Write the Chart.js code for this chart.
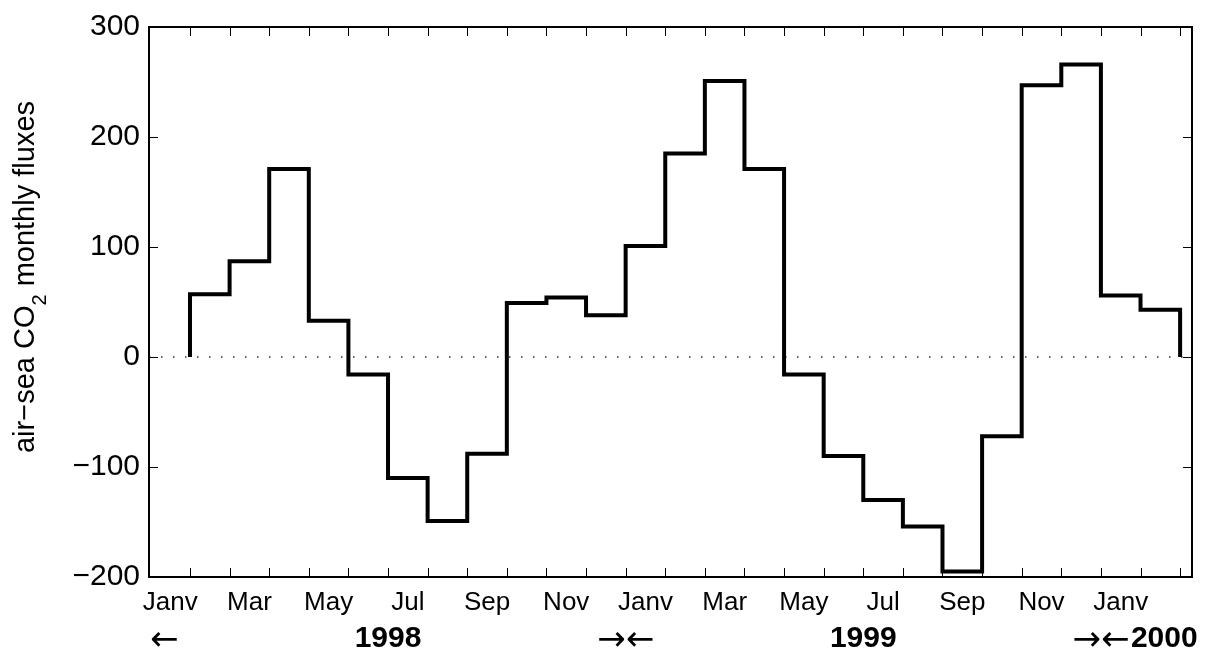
<!DOCTYPE html>
<html>
<head>
<meta charset="utf-8">
<title>air-sea CO2 monthly fluxes</title>
<script src="https://cdn.jsdelivr.net/npm/chart.js@4.4.0/dist/chart.umd.min.js"></script>
<style>
  html, body { margin: 0; padding: 0; background: #fff; }
  #wrap { width: 1214px; height: 662px; }
</style>
</head>
<body>
<div id="wrap"><canvas id="fluxChart" width="1214" height="662"></canvas></div>
<script>
// ==================== DONNEES ====================

// flux mensuels, janv 1998 -> janv 2000
const fluxValues = [57, 87, 171, 33, -16, -110, -149, -88, 49, 54, 38, 101,
                    185, 251, 171, -16, -90, -130, -154, -195, -72, 247, 266, 56,
                    43];

// etiquettes des mois (un mois sur deux)
const monthLabels = ['Janv', 'Mar', 'May', 'Jul', 'Sep', 'Nov',
                     'Janv', 'Mar', 'May', 'Jul', 'Sep', 'Nov', 'Janv'];

// ligne des annees sous l'axe
const yearLabels = ['\u2190', '1998', '\u2192\u2190', '1999', '\u2192\u2190', '2000'];
const yearLabelPos = [-0.65, 5, 11, 17, 23, 24.6];

const yTickValues = [-200, -100, 0, 100, 200, 300];

// ==================== REGLAGES ====================

const FONT = '"Liberation Sans", Arial, Helvetica, sans-serif';
const ARROW_FONT = '"DejaVu Sans", sans-serif';
const X_MIN = -1.035;
const X_MAX = 25.3;
const TICK_LEN = 9;

const monthTicks = [];
for (let i = 0; i <= fluxValues.length; i++) monthTicks.push(i);
// les noms de mois sont decales d'un demi-mois a gauche du trait
const monthLabelPos = monthLabels.map((_, i) => i * 2 - 0.5);

// escalier : part de 0, une marche par mois, retombe a 0
const last = fluxValues[fluxValues.length - 1];
const stairPoints = [{ x: 0, y: 0 }]
  .concat(fluxValues.map((v, i) => ({ x: i, y: v })))
  .concat([{ x: fluxValues.length, y: last }, { x: fluxValues.length, y: 0 }]);

// ==================== PLUGINS ====================

// cadre + petits traits vers l'interieur sur les 4 cotes
const cadre = {
  id: 'cadre',
  afterDatasetsDraw(chart) {
    const { ctx, chartArea: a, scales } = chart;
    ctx.save();
    ctx.strokeStyle = '#000';
    ctx.lineWidth = 1;
    ctx.beginPath();
    scales.x.ticks.forEach(t => {
      const px = Math.round(scales.x.getPixelForValue(t.value)) + 0.5;
      ctx.moveTo(px, a.bottom); ctx.lineTo(px, a.bottom - TICK_LEN);
      ctx.moveTo(px, a.top); ctx.lineTo(px, a.top + TICK_LEN);
    });
    scales.y.ticks.forEach(t => {
      const py = Math.round(scales.y.getPixelForValue(t.value)) + 0.5;
      ctx.moveTo(a.left, py); ctx.lineTo(a.left + TICK_LEN, py);
      ctx.moveTo(a.right, py); ctx.lineTo(a.right - TICK_LEN, py);
    });
    ctx.stroke();
    ctx.lineWidth = 2;
    ctx.strokeRect(a.left, a.top, a.right - a.left, a.bottom - a.top);
    ctx.restore();
  }
};

// titre vertical avec CO2 en indice
const titreY = {
  id: 'titreY',
  afterDraw(chart) {
    const ctx = chart.ctx;
    const parts = [
      { t: 'air\u2212sea CO', size: 29, dy: 0 },
      { t: '2', size: 20, dy: 12 },
      { t: ' monthly fluxes', size: 29, dy: 0 }
    ];
    ctx.save();
    ctx.translate(34, 277);
    ctx.rotate(-Math.PI / 2);
    ctx.fillStyle = '#000';
    ctx.textAlign = 'left';
    ctx.textBaseline = 'alphabetic';
    let total = 0;
    parts.forEach(p => {
      ctx.font = p.size + 'px ' + FONT;
      p.w = ctx.measureText(p.t).width;
      total += p.w;
    });
    let x = -total / 2;
    parts.forEach(p => {
      ctx.font = p.size + 'px ' + FONT;
      ctx.fillText(p.t, x, p.dy);
      x += p.w;
    });
    ctx.restore();
  }
};

// ==================== GRAPHIQUE ====================

const ctx = document.getElementById('fluxChart').getContext('2d');
new Chart(ctx, {
  type: 'line',
  data: {
    datasets: [
      {
        label: 'flux',
        data: stairPoints,
        stepped: 'before',
        borderColor: '#000',
        borderWidth: 4,
        borderJoinStyle: 'miter',
        pointRadius: 0,
        fill: false,
        order: 0
      },
      {
        label: 'zero',
        data: [{ x: X_MIN, y: 0 }, { x: X_MAX, y: 0 }],
        borderColor: '#333',
        borderWidth: 1.5,
        borderDash: [1.5, 10.5],
        pointRadius: 0,
        fill: false,
        order: 1
      }
    ]
  },
  options: {
    responsive: false,
    devicePixelRatio: 1,
    animation: false,
    layout: { padding: { top: 22, right: 22, left: 0, bottom: 0 } },
    plugins: {
      legend: { display: false },
      tooltip: { enabled: false }
    },
    scales: {
      x: {
        type: 'linear', position: 'bottom', min: X_MIN, max: X_MAX, weight: 0,
        afterBuildTicks: s => { s.ticks = monthTicks.map(v => ({ value: v })); },
        ticks: { display: false },
        grid: { display: false, drawTicks: false },
        border: { display: false },
        afterFit: s => { s.height = 0; }
      },
      xMonths: {
        type: 'linear', position: 'bottom', min: X_MIN, max: X_MAX, weight: 1,
        afterBuildTicks: s => { s.ticks = monthLabelPos.map(v => ({ value: v })); },
        ticks: {
          autoSkip: false, maxRotation: 0, minRotation: 0, padding: 10,
          color: '#000',
          font: { family: FONT, size: 26 },
          callback: (v, i) => monthLabels[i]
        },
        grid: { display: false, drawTicks: false },
        border: { display: false },
        afterFit: s => { s.height = 42; }
      },
      xYears: {
        type: 'linear', position: 'bottom', min: X_MIN, max: X_MAX, weight: 2,
        afterBuildTicks: s => { s.ticks = yearLabelPos.map(v => ({ value: v })); },
        ticks: {
          autoSkip: false, maxRotation: 0, minRotation: 0, padding: 2,
          color: '#000',
          font: c => /\d/.test(yearLabels[c.index])
            ? { family: FONT, size: 30, weight: 'bold' }
            : { family: ARROW_FONT, size: 34, weight: 'normal' },
          callback: (v, i) => yearLabels[i]
        },
        grid: { display: false, drawTicks: false },
        border: { display: false },
        afterFit: s => { s.height = 43; }
      },
      y: {
        type: 'linear', min: -200, max: 300,
        afterBuildTicks: s => { s.ticks = yTickValues.map(v => ({ value: v })); },
        ticks: {
          padding: 9,
          color: '#000',
          font: { family: FONT, size: 30 },
          callback: v => String(v).replace('-', '\u2212')
        },
        grid: { display: false, drawTicks: false },
        border: { display: false },
        afterFit: s => { s.width = 149; }
      }
    }
  },
  plugins: [cadre, titreY]
});
</script>
</body>
</html>
